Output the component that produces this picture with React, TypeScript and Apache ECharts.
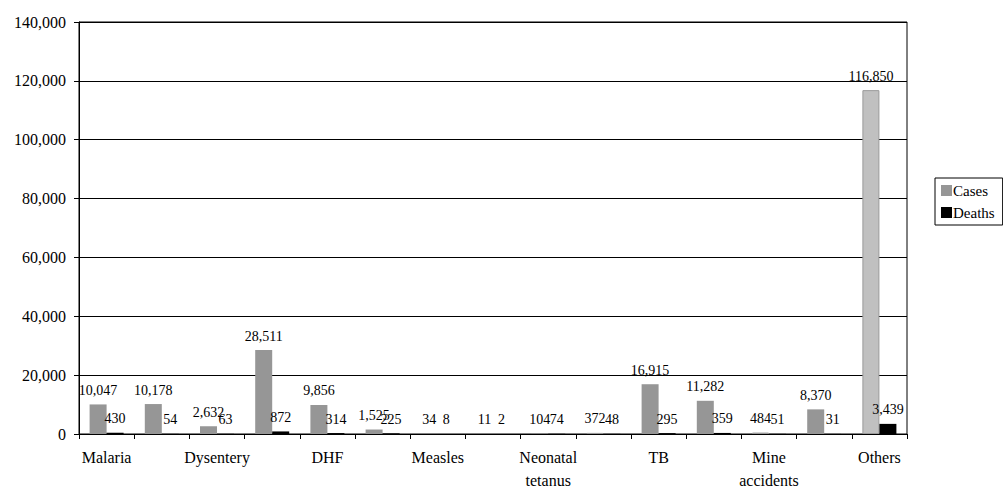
import React, { useEffect, useRef } from "react";
import * as echarts from "echarts";

const categories = [
  "Malaria", "", "Dysentery", "", "DHF", "", "Measles", "",
  "Neonatal\ntetanus", "", "TB", "", "Mine\naccidents", "", "Others",
];
const cases = [10047, 10178, 2632, 28511, 9856, 1525, 34, 11, 104, 372, 16915, 11282, 484, 8370, 116850];
const deaths = [430, 54, 63, 872, 314, 225, 8, 2, 74, 48, 295, 359, 51, 31, 3439];
const lightCaseIdx = [9, 12, 14];
const yTicks = { min: 0, max: 140000, interval: 20000 };

const FONT = "Liberation Serif";
const fmt = (v: number) => v.toLocaleString("en-US");

export default function App() {
  const ref = useRef<HTMLDivElement>(null);
  useEffect(() => {
    if (!ref.current) return;
    const chart = echarts.init(ref.current, null, { renderer: "svg" });
    const labelStyle = {
      show: true,
      position: "top" as const,
      distance: 7,
      color: "#000",
      fontFamily: FONT,
      fontSize: 14,
      formatter: (p: any) => fmt(p.value),
    };
    chart.setOption({
      animation: false,
      backgroundColor: "#fff",
      textStyle: { fontFamily: FONT },
      grid: {
        left: 79,
        right: 96,
        top: 22,
        bottom: 57,
        show: true,
        borderColor: "#000",
        borderWidth: 1,
      },
      legend: {
        orient: "vertical",
        left: 935,
        top: 178,
        itemWidth: 11,
        itemHeight: 11,
        itemGap: 7,
        padding: [5, 8, 5, 6],
        borderColor: "#000",
        borderWidth: 1,
        backgroundColor: "#fff",
        icon: "rect",
        textStyle: { fontFamily: FONT, fontSize: 15, color: "#000", padding: [0, 0, 0, -4] },
        data: [
          { name: "Cases", itemStyle: { color: "#969696" } },
          { name: "Deaths", itemStyle: { color: "#000" } },
        ],
      },
      xAxis: {
        type: "category",
        data: categories,
        axisLine: { lineStyle: { color: "#000" } },
        axisTick: { show: true, interval: 0, length: 5, lineStyle: { color: "#000" } },
        axisLabel: {
          interval: 1,
          color: "#000",
          fontFamily: FONT,
          fontSize: 16,
          lineHeight: 23,
          margin: 12,
        },
      },
      yAxis: {
        type: "value",
        min: yTicks.min,
        max: yTicks.max,
        interval: yTicks.interval,
        axisLine: { show: true, lineStyle: { color: "#000" } },
        axisTick: { show: true, length: 5, lineStyle: { color: "#000" } },
        splitLine: { show: true, lineStyle: { color: "#000", width: 1 } },
        axisLabel: {
          color: "#000",
          fontFamily: FONT,
          fontSize: 16,
          margin: 13,
          formatter: (v: number) => fmt(v),
        },
      },
      series: [
        {
          name: "Cases",
          type: "bar",
          barWidth: 17,
          barGap: "0%",
          color: "#969696",
          data: cases.map((v, i) =>
            lightCaseIdx.includes(i)
              ? { value: v, itemStyle: { color: "#c0c0c0", borderColor: "#9a9a9a", borderWidth: 1 } }
              : v
          ),
          itemStyle: { color: "#969696" },
          label: labelStyle,
        },
        {
          name: "Deaths",
          type: "bar",
          barWidth: 17,
          color: "#000",
          data: deaths,
          itemStyle: { color: "#000" },
          label: labelStyle,
        },
      ],
    });
    return () => chart.dispose();
  }, []);
  return (
    <div
      ref={ref}
      style={{ position: "fixed", left: 0, top: 0, width: 1003, height: 492, background: "#fff" }}
    />
  );
}
